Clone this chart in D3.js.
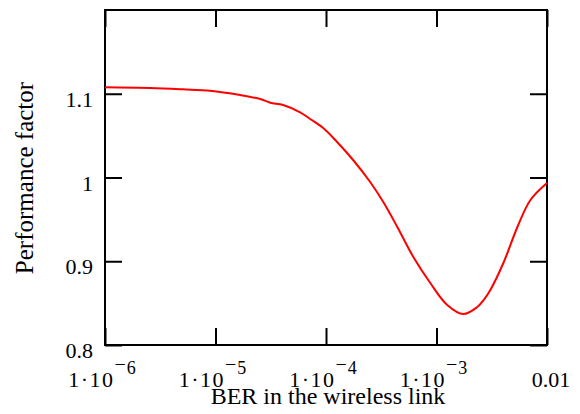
<!DOCTYPE html>
<html>
<head>
<meta charset="utf-8">
<script src="https://cdn.jsdelivr.net/npm/d3@7"></script>
<style>
  html, body { margin: 0; padding: 0; background: #fff; }
  svg { display: block; }
  text { font-family: "Liberation Serif", "Times New Roman", serif; fill: #000; }
</style>
</head>
<body>
<svg id="chart" width="580" height="414"></svg>
<script>
// Bit error rate on the wireless link and the resulting performance factor
const berValues = [
  1.0e-6, 2.56e-6, 5.09e-6, 8.93e-6, 1.67e-5, 2.54e-5, 3.13e-5, 4.09e-5,
  5.83e-5, 7.19e-5, 9.44e-5, 1.26e-4, 1.76e-4, 2.51e-4, 3.30e-4, 4.42e-4,
  6.17e-4, 8.79e-4, 1.25e-3, 1.75e-3, 2.34e-3, 2.67e-3, 3.07e-3, 4.03e-3,
  5.40e-3, 7.08e-3, 1.0e-2
];
const performanceFactor = [
  1.1077, 1.1069, 1.1053, 1.1036, 1.0985, 1.0937, 1.0893, 1.0866,
  1.0779, 1.0699, 1.0591, 1.0424, 1.0209, 0.9946, 0.9707, 0.9409,
  0.9051, 0.8740, 0.8478, 0.8370, 0.8454, 0.8537, 0.8657, 0.8979,
  0.9409, 0.9731, 0.9934
];

// Axis ticks and their labels
const xTickValues = [1e-6, 1e-5, 1e-4, 1e-3, 1e-2];
const xTickBase = ["1·10", "1·10", "1·10", "1·10", "0.01"];
const xTickExp = ["6", "5", "4", "3", ""];
const yTickValues = [0.8, 0.9, 1.0, 1.1];
const yTickLabels = ["0.8", "0.9", "1", "1.1"];
const xDomain = [1e-6, 1e-2];
const yDomain = [0.8, 1.2];
const xTitle = "BER in the wireless link";
const yTitle = "Performance factor";

const svg = d3.select("#chart");
const plotLeft = 105, plotRight = 547, plotTop = 10, plotBottom = 345;
const tickLen = 17;

const x = d3.scaleLog().domain(xDomain).range([plotLeft, plotRight]);
const y = d3.scaleLinear().domain(yDomain).range([plotBottom, plotTop]);

svg.append("rect").attr("width", 580).attr("height", 414).attr("fill", "#fff");

// Inward ticks on all four sides of the frame
function styleAxis(g) {
  g.select(".domain").remove();
  g.selectAll(".tick line").attr("stroke", "#000").attr("stroke-width", 2);
  g.selectAll(".tick text").remove();
}
svg.append("g").attr("transform", `translate(0,${plotBottom})`)
  .call(d3.axisBottom(x).tickValues(xTickValues).tickSizeInner(-tickLen).tickSizeOuter(0).tickFormat(""))
  .call(styleAxis);
svg.append("g").attr("transform", `translate(0,${plotTop})`)
  .call(d3.axisTop(x).tickValues(xTickValues).tickSizeInner(-tickLen).tickSizeOuter(0).tickFormat(""))
  .call(styleAxis);
svg.append("g").attr("transform", `translate(${plotLeft},0)`)
  .call(d3.axisLeft(y).tickValues(yTickValues).tickSizeInner(-tickLen).tickSizeOuter(0).tickFormat(""))
  .call(styleAxis);
svg.append("g").attr("transform", `translate(${plotRight},0)`)
  .call(d3.axisRight(y).tickValues(yTickValues).tickSizeInner(-tickLen).tickSizeOuter(0).tickFormat(""))
  .call(styleAxis);

// Frame
svg.append("rect")
  .attr("x", plotLeft).attr("y", plotTop)
  .attr("width", plotRight - plotLeft).attr("height", plotBottom - plotTop)
  .attr("fill", "none").attr("stroke", "#000").attr("stroke-width", 2);

// Y tick labels
svg.append("g").selectAll("text")
  .data(yTickValues)
  .join("text")
  .attr("x", plotLeft - 12)
  .attr("y", d => y(d) + 13)
  .attr("text-anchor", "end")
  .attr("font-size", 22)
  .text((d, i) => yTickLabels[i]);

// X tick labels with raised exponents
const xl = svg.append("g").selectAll("text")
  .data(xTickValues)
  .join("text")
  .attr("x", (d, i) => x(d) + (xTickExp[i] ? -3 : 4))
  .attr("y", 387)
  .attr("text-anchor", "middle")
  .attr("font-size", 22);
xl.append("tspan")
  .attr("letter-spacing", (d, i) => xTickExp[i] ? "1.5px" : null)
  .text((d, i) => xTickBase[i]);
xl.filter((d, i) => xTickExp[i]).append("tspan")
  .attr("font-size", 20)
  .attr("dy", -16)
  .text("\u2212");
xl.filter((d, i) => xTickExp[i]).append("tspan")
  .attr("font-size", 18)
  .attr("dy", 3)
  .attr("dx", 1)
  .text(d => xTickExp[xTickValues.indexOf(d)]);

// Axis titles
svg.append("text")
  .attr("x", 328)
  .attr("y", 404)
  .attr("text-anchor", "middle")
  .attr("font-size", 24)
  .text(xTitle);
svg.append("text")
  .attr("transform", "translate(33,178) rotate(-90)")
  .attr("text-anchor", "middle")
  .attr("font-size", 25)
  .text(yTitle);

// Performance curve
const line = d3.line()
  .x((d, i) => x(berValues[i]))
  .y(d => y(d))
  .curve(d3.curveCatmullRom.alpha(0.5));
svg.append("path")
  .datum(performanceFactor)
  .attr("fill", "none")
  .attr("stroke", "#ff0000")
  .attr("stroke-width", 2)
  .attr("d", line);
</script>
</body>
</html>
